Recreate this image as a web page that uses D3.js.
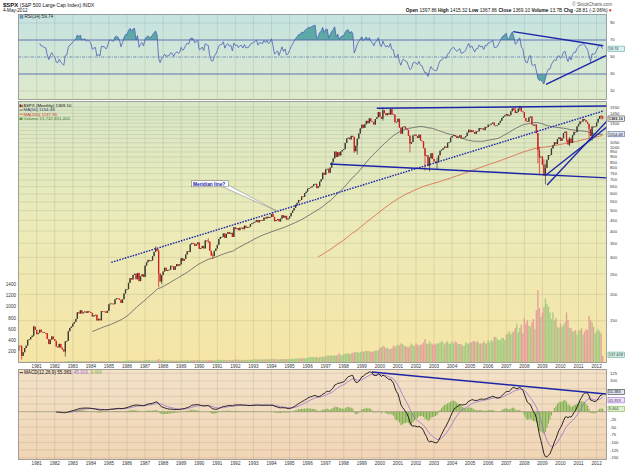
<!DOCTYPE html>
<html>
<head>
<meta charset="utf-8">
<script src="https://cdn.jsdelivr.net/npm/d3@7"></script>
<style>
  body { margin: 0; background: #fff; }
  svg text { font-family: "Liberation Sans", Arial, sans-serif; }
</style>
</head>
<body>
<svg id="chart" width="625" height="467"></svg>
<script>
// $SPX monthly closes, Jan 1980 .. May 2012
const startYear = 1980;
const firstOpen = 107.94;
const closes = [
  114.16, 113.66, 102.09, 106.29, 111.24, 114.24, 121.67, 122.38, 125.46, 127.47, 140.52, 135.76, // 1980
  129.55, 131.27, 136.00, 132.81, 132.59, 131.21, 130.92, 122.79, 116.18, 121.89, 126.35, 122.55, // 1981
  120.40, 113.11, 111.96, 116.44, 111.88, 109.61, 107.09, 119.51, 120.42, 133.71, 138.54, 140.64, // 1982
  145.30, 148.06, 152.96, 164.42, 162.39, 168.11, 162.56, 164.40, 166.07, 163.55, 166.40, 164.93, // 1983
  163.41, 157.06, 159.18, 160.05, 150.55, 153.18, 150.66, 166.68, 166.10, 166.09, 163.58, 167.24, // 1984
  179.63, 181.18, 180.66, 179.83, 189.55, 191.85, 190.92, 188.63, 182.08, 189.82, 202.17, 211.28, // 1985
  211.78, 226.92, 238.90, 235.52, 247.35, 250.84, 236.12, 252.93, 231.32, 243.98, 249.22, 242.17, // 1986
  274.08, 284.20, 291.70, 288.36, 290.10, 304.00, 318.66, 329.80, 321.83, 251.79, 230.30, 247.08, // 1987
  257.07, 267.82, 258.89, 261.33, 262.16, 273.50, 272.02, 261.52, 271.91, 278.97, 273.70, 277.72, // 1988
  297.47, 288.86, 294.87, 309.64, 320.52, 317.98, 346.08, 351.45, 349.15, 340.36, 345.99, 353.40, // 1989
  329.08, 331.89, 339.94, 330.80, 361.23, 358.02, 356.15, 322.56, 306.05, 304.00, 322.22, 330.22, // 1990
  343.93, 367.07, 375.22, 375.34, 389.83, 371.16, 387.81, 395.43, 387.86, 392.46, 375.22, 417.09, // 1991
  408.79, 412.70, 403.69, 414.95, 415.35, 408.14, 424.21, 414.03, 417.80, 418.68, 431.35, 435.71, // 1992
  438.78, 443.38, 451.67, 440.19, 450.19, 450.53, 448.13, 463.56, 458.93, 467.83, 461.79, 466.45, // 1993
  481.61, 467.14, 445.77, 450.91, 456.50, 444.27, 458.26, 475.49, 462.69, 472.35, 453.69, 459.27, // 1994
  470.42, 487.39, 500.71, 514.71, 533.40, 544.75, 562.06, 561.88, 584.41, 581.50, 605.37, 615.93, // 1995
  636.02, 640.43, 645.50, 654.17, 669.12, 670.63, 639.95, 651.99, 687.31, 705.27, 757.02, 740.74, // 1996
  786.16, 790.82, 757.12, 801.34, 848.28, 885.14, 954.29, 899.47, 947.28, 914.62, 955.40, 970.43, // 1997
  980.28, 1049.34, 1101.75, 1111.75, 1090.82, 1133.84, 1120.67, 957.28, 1017.01, 1098.67, 1163.63, 1229.23, // 1998
  1279.64, 1238.33, 1286.37, 1335.18, 1301.84, 1372.71, 1328.72, 1320.41, 1282.71, 1362.93, 1388.91, 1469.25, // 1999
  1394.46, 1366.42, 1498.58, 1452.43, 1420.60, 1454.60, 1430.83, 1517.68, 1436.51, 1429.40, 1314.95, 1320.28, // 2000
  1366.01, 1239.94, 1160.33, 1249.46, 1255.82, 1224.42, 1211.23, 1133.58, 1040.94, 1059.78, 1139.45, 1148.08, // 2001
  1130.20, 1106.73, 1147.39, 1076.92, 1067.14, 989.82, 911.62, 916.07, 815.28, 885.76, 936.31, 879.82, // 2002
  855.70, 841.15, 848.18, 916.92, 963.59, 974.50, 990.31, 1008.01, 995.97, 1050.71, 1058.20, 1111.92, // 2003
  1131.13, 1144.94, 1126.21, 1107.30, 1120.68, 1140.84, 1101.72, 1104.24, 1114.58, 1130.20, 1173.82, 1211.92, // 2004
  1181.27, 1203.60, 1180.59, 1156.85, 1191.50, 1191.33, 1234.18, 1220.33, 1228.81, 1207.01, 1249.48, 1248.29, // 2005
  1280.08, 1280.66, 1294.83, 1310.61, 1270.09, 1270.20, 1276.66, 1303.82, 1335.85, 1377.94, 1400.63, 1418.30, // 2006
  1438.24, 1406.82, 1420.86, 1482.37, 1530.62, 1503.35, 1455.27, 1473.99, 1526.75, 1549.38, 1481.14, 1468.36, // 2007
  1378.55, 1330.63, 1322.70, 1385.59, 1400.38, 1280.00, 1267.38, 1282.83, 1166.36, 968.75, 896.24, 903.25, // 2008
  825.88, 735.09, 797.87, 872.81, 919.14, 919.32, 987.48, 1020.62, 1057.08, 1036.19, 1095.63, 1115.10, // 2009
  1073.87, 1104.49, 1169.43, 1186.69, 1089.41, 1030.71, 1101.60, 1049.33, 1141.20, 1183.26, 1180.55, 1257.64, // 2010
  1286.12, 1327.22, 1325.83, 1363.61, 1345.20, 1320.64, 1292.28, 1218.89, 1131.42, 1253.30, 1246.96, 1257.60, // 2011
  1312.41, 1365.68, 1408.47, 1397.91, 1369.10 // 2012
];

// monthly volume, in hundreds of millions of shares (left axis units)
const volumes = [
  8, 9, 10, 8, 8, 8, 10, 10, 11, 11, 11, 10,
  11, 10, 11, 11, 10, 10, 9, 10, 10, 10, 10, 10,
  11, 10, 12, 12, 11, 10, 11, 18, 17, 23, 20, 19,
  23, 22, 21, 24, 25, 22, 20, 19, 20, 21, 20, 19,
  23, 21, 20, 19, 20, 18, 18, 28, 20, 20, 19, 20,
  25, 23, 21, 21, 24, 22, 23, 20, 20, 24, 25, 27,
  30, 32, 35, 32, 30, 30, 30, 29, 32, 30, 30, 30,
  42, 40, 42, 40, 34, 34, 34, 37, 35, 60, 38, 36,
  35, 33, 34, 30, 30, 36, 30, 28, 29, 30, 30, 30,
  34, 32, 34, 33, 36, 36, 35, 40, 36, 40, 35, 38,
  40, 34, 36, 33, 38, 36, 36, 40, 36, 40, 36, 38,
  44, 46, 44, 44, 42, 40, 40, 40, 40, 42, 40, 44,
  50, 48, 46, 46, 42, 44, 42, 40, 44, 46, 46, 44,
  52, 54, 54, 52, 52, 54, 50, 50, 56, 58, 54, 54,
  60, 58, 62, 54, 54, 52, 52, 58, 58, 58, 58, 54,
  62, 62, 66, 58, 66, 70, 70, 72, 72, 74, 74, 72,
  86, 88, 92, 96, 96, 88, 98, 84, 92, 100, 100, 100,
  120, 120, 118, 126, 118, 124, 124, 124, 130, 160, 130, 128,
  150, 150, 160, 160, 150, 160, 170, 180, 180, 190, 170, 180,
  200, 190, 200, 210, 200, 200, 190, 190, 200, 210, 210, 220,
  260, 270, 300, 280, 250, 260, 240, 240, 250, 300, 280, 300,
  320, 300, 340, 330, 300, 290, 280, 270, 300, 340, 310, 290,
  340, 320, 300, 320, 320, 360, 420, 340, 330, 380, 340, 320,
  340, 320, 340, 340, 360, 380, 360, 320, 360, 380, 330, 340,
  380, 340, 380, 360, 330, 330, 330, 300, 300, 360, 340, 340,
  360, 360, 380, 380, 360, 380, 340, 340, 340, 380, 340, 340,
  400, 360, 400, 380, 460, 460, 420, 400, 400, 440, 440, 400,
  500, 520, 560, 500, 540, 560, 620, 700, 540, 620, 680, 520,
  800, 700, 760, 660, 640, 720, 780, 600, 940, 1300, 980, 820,
  900, 1000, 1150, 1050, 1000, 900, 780, 900, 760, 800, 640, 620,
  700, 640, 680, 720, 900, 760, 620, 620, 560, 560, 580, 500,
  580, 580, 620, 500, 560, 600, 580, 840, 760, 720, 640, 520,
  560, 600, 560, 520, 115
];

// notable monthly lows / highs (month, low, high)
const extremes = [
  ["1980-03", 98.22, 114.4], ["1980-11", 126.3, 141.96], ["1982-08", 101.4, 120.0],
  ["1987-08", 318.0, 337.89], ["1987-10", 216.46, 328.3], ["1987-12", 223.9, 247.1],
  ["1990-07", 351.0, 369.78], ["1990-10", 294.51, 314.6], ["1998-08", 939.98, 1121.0],
  ["1998-10", 923.32, 1100.0], ["2000-03", 1339.4, 1552.87], ["2000-09", 1421.0, 1530.09],
  ["2001-09", 944.75, 1142.0], ["2002-07", 775.68, 994.0], ["2002-10", 768.63, 900.0],
  ["2003-03", 788.9, 895.0], ["2007-07", 1455.0, 1555.9], ["2007-10", 1489.0, 1576.09],
  ["2008-10", 839.8, 1170.0], ["2008-11", 741.02, 1007.0], ["2009-02", 731.1, 877.0],
  ["2009-03", 666.79, 832.98], ["2010-05", 1055.9, 1186.0], ["2010-07", 1010.91, 1120.0],
  ["2011-08", 1101.54, 1292.0], ["2011-10", 1074.77, 1260.0], ["2012-04", 1357.38, 1422.38],
  ["2012-05", 1367.86, 1415.32]
];

// tick labels
const years = d3.range(1981, 2013);
const priceTicks = d3.range(1550, 149, -50);
const volumeTicks = [200, 400, 600, 800, 1000, 1200, 1400];
const rsiTicks = [10, 30, 50, 70, 90];
const macdTicks = [125, 100, 75, 50, 25, 0, -25, -50, -75, -100, -125, -150];

// hand drawn trend lines: [yearFraction, value]
const priceLines = [
  [[1999.83, 1532], [2012.63, 1572]],
  [[1997.24, 833], [2012.63, 715]],
  [[2009.2, 738], [2012.63, 1262]],
  [[2009.26, 662], [2012.63, 1348]]
];
const meridianLine = [[1985.13, 284], [2012.4, 1490]];
const rsiLines = [
  [[2007.38, 79.8], [2012.37, 63.3]],
  [[2009.2, 17.9], [2012.52, 51.5]]
];
const macdLines = [[[1999.55, 129.3], [2012.52, 57.7]]];

// readings shown in the legends
const rsiLast = 59.74;
const macdLast = [55.383, 45.919, 9.464];
const volumeLast = 137.43;
const header = [["Open", "1397.86"], ["High", "1415.32"], ["Low", "1367.86"], ["Close", "1369.10"],
  ["Volume", "13.7B"], ["Chg", "-28.81 (-2.06%)"]];

// ---------- indicators ----------
function sma(vals, n) {
  return vals.map((v, i) => i < n - 1 ? null : d3.mean(vals.slice(i - n + 1, i + 1)));
}
function ema(vals, n) {
  const out = vals.map(() => null);
  const k = 2 / (n + 1);
  const start = vals.findIndex(v => v != null);
  if (start < 0 || start + n > vals.length) return out;
  let s = d3.mean(vals.slice(start, start + n));
  out[start + n - 1] = s;
  for (let i = start + n; i < vals.length; i++) { s = vals[i] * k + s * (1 - k); out[i] = s; }
  return out;
}
function rsi(vals, n) {
  const out = vals.map(() => null);
  let g = 0, l = 0;
  for (let i = 1; i <= n; i++) { const d = vals[i] - vals[i - 1]; if (d > 0) g += d; else l -= d; }
  g /= n; l /= n;
  out[n] = 100 - 100 / (1 + g / l);
  for (let i = n + 1; i < vals.length; i++) {
    const d = vals[i] - vals[i - 1];
    g = (g * (n - 1) + Math.max(d, 0)) / n;
    l = (l * (n - 1) + Math.max(-d, 0)) / n;
    out[i] = l === 0 ? 100 : 100 - 100 / (1 + g / l);
  }
  return out;
}

const t = i => startYear + i / 12;
const opens = closes.map((c, i) => i === 0 ? firstOpen : closes[i - 1]);
const ma50 = sma(closes, 50);
const ma200 = sma(closes, 200);
const rsiVals = rsi(closes, 14);
const e12 = ema(closes, 12), e26 = ema(closes, 26);
const macd = closes.map((c, i) => e26[i] == null ? null : e12[i] - e26[i]);
const signal = ema(macd, 9);
const hist = macd.map((m, i) => signal[i] == null ? null : m - signal[i]);
const extremeMap = new Map(extremes.map(d => [d[0], d]));
const bars = closes.map((c, i) => {
  const key = `${startYear + Math.floor(i / 12)}-${String(i % 12 + 1).padStart(2, "0")}`;
  const e = extremeMap.get(key);
  const o = opens[i];
  return {
    i, t: t(i), o, c, v: volumes[i],
    lo: e ? e[1] : Math.min(o, c),
    hi: e ? e[2] : Math.max(o, c),
    up: c >= o
  };
});

// ---------- layout ----------
const L = 18, R = 607;
const rsiP = { top: 14, bottom: 100 };
const mainP = { top: 101, bottom: 363 };
const macdP = { top: 369, bottom: 460 };

const x = d3.scaleLinear().domain([1981, 2012]).range([36.7, 596.6]);
const yP = d3.scaleLog().domain([100, 1000]).range([357.8, 147.3]);
const yV = d3.scaleLinear().domain([0, 1400]).range([362.3, 284.7]);
const yR = d3.scaleLinear().domain([0, 100]).range([99.5, 14.5]);
const yM = d3.scaleLinear().domain([0, 125]).range([411.7, 373.3]);

const svg = d3.select("#chart");
const defs = svg.append("defs");

function gradient(id, stops) {
  const g = defs.append("linearGradient").attr("id", id)
    .attr("x1", 0).attr("y1", 0).attr("x2", 0).attr("y2", 1);
  stops.forEach(s => g.append("stop").attr("offset", s[0]).attr("stop-color", s[1]));
}
gradient("rsiBg", [[0, "#c5e3e2"], [1, "#dfeaca"]]);
gradient("mainBg", [[0, "#d8e7c6"], [0.45, "#ebebb9"], [1, "#f6e5a6"]]);
gradient("macdBg", [[0, "#f3e1c7"], [1, "#f1d5b5"]]);

function panel(id, p, fill) {
  defs.append("clipPath").attr("id", id + "Clip")
    .append("rect").attr("x", L).attr("y", p.top).attr("width", R - L).attr("height", p.bottom - p.top);
  svg.append("rect")
    .attr("x", L).attr("y", p.top).attr("width", R - L).attr("height", p.bottom - p.top)
    .style("fill", fill);
  return svg.append("g").attr("clip-path", `url(#${id}Clip)`);
}
function border(p) {
  svg.append("rect")
    .attr("x", L + 0.5).attr("y", p.top + 0.5).attr("width", R - L - 1).attr("height", p.bottom - p.top - 1)
    .style("fill", "none").style("stroke", "#8f8f8f").style("stroke-width", 0.8);
}
function vGrid(g, p) {
  g.selectAll(".vgrid").data(years).enter().append("line")
    .attr("x1", d => x(d)).attr("x2", d => x(d))
    .attr("y1", p.top).attr("y2", p.bottom)
    .style("stroke", "rgba(60,60,60,0.16)").style("stroke-width", 0.7);
}
function hGrid(g, vals, scale) {
  g.selectAll(".hgrid").data(vals).enter().append("line")
    .attr("x1", L).attr("x2", R)
    .attr("y1", d => scale(d)).attr("y2", d => scale(d))
    .style("stroke", "rgba(60,60,60,0.16)").style("stroke-width", 0.7);
}
function trend(g, pts, xs, ys, dashed) {
  g.append("line")
    .attr("x1", xs(pts[0][0])).attr("y1", ys(pts[0][1]))
    .attr("x2", xs(pts[1][0])).attr("y2", ys(pts[1][1]))
    .style("stroke", "#1b25a8").style("stroke-width", 1.4)
    .style("stroke-dasharray", dashed ? "1.6,1.2" : null);
}
// axis labels on the right, skipping the ones a value tag sits on or that crowd the previous one
function rightLabels(vals, scale, tagYs) {
  const keep = [];
  let lastY = -Infinity;
  vals.forEach(v => {
    const y = scale(v);
    if ((tagYs || []).some(ty => Math.abs(y - ty) < 4.5)) return;
    if (Math.abs(y - lastY) < 4.3) return;
    keep.push(v);
    lastY = y;
  });
  svg.append("g").selectAll("text").data(keep).enter().append("text")
    .attr("x", R + 3).attr("y", d => scale(d)).attr("dy", "0.35em")
    .style("font-size", "4.2px").style("fill", "#333")
    .text(d => d);
}
function tag(yPos, txt, fill, stroke, color, bold) {
  const g = svg.append("g");
  g.append("rect").attr("x", R + 1).attr("y", yPos - 2.6).attr("width", 16.5).attr("height", 5.2)
    .style("fill", fill).style("stroke", stroke).style("stroke-width", 0.6);
  g.append("text").attr("x", R + 1.8).attr("y", yPos).attr("dy", "0.35em")
    .style("font-size", "3.9px").style("fill", color).style("font-weight", bold ? "bold" : "normal")
    .text(txt);
}
function yearLabels(yPos) {
  svg.append("g").selectAll("text").data(years).enter().append("text")
    .attr("x", d => x(d)).attr("y", yPos).attr("text-anchor", "middle")
    .style("font-size", "4.6px").style("fill", "#333")
    .text(d => d);
}

// ---------- header ----------
const head = svg.append("text").attr("x", 3).attr("y", 6.5).style("font-size", "5px").style("fill", "#111");
head.append("tspan").style("font-weight", "bold").style("font-size", "6px").text("$SPX");
head.append("tspan").text(" (S&P 500 Large Cap Index) INDX");
svg.append("text").attr("x", 3).attr("y", 12).style("font-size", "4.6px").style("fill", "#222").text("4-May-2012");
svg.append("text").attr("x", 612).attr("y", 5.5).attr("text-anchor", "end")
  .style("font-size", "4.6px").style("fill", "#555").text("© StockCharts.com");
const quote = svg.append("text").attr("x", 612).attr("y", 12).attr("text-anchor", "end")
  .style("font-size", "4.8px").style("fill", "#111");
header.forEach(h => {
  quote.append("tspan").style("font-weight", "bold").text(h[0] + " ");
  quote.append("tspan").text(h[1] + " ");
});
quote.append("tspan").style("fill", "#c00").text("▾");

// ---------- RSI panel ----------
const rsiG = panel("rsi", rsiP, "url(#rsiBg)");
vGrid(rsiG, rsiP);
hGrid(rsiG, [10, 90], yR);
const rsiPts = bars.filter(b => rsiVals[b.i] != null).map(b => ({ t: b.t, v: rsiVals[b.i] }));
defs.append("clipPath").attr("id", "over70").append("rect")
  .attr("x", L).attr("y", rsiP.top).attr("width", R - L).attr("height", yR(70) - rsiP.top);
defs.append("clipPath").attr("id", "under30").append("rect")
  .attr("x", L).attr("y", yR(30)).attr("width", R - L).attr("height", rsiP.bottom - yR(30));
rsiG.append("path").datum(rsiPts)
  .attr("clip-path", "url(#over70)")
  .attr("d", d3.area().x(d => x(d.t)).y0(yR(70)).y1(d => yR(d.v)))
  .style("fill", "#5ca9a6");
rsiG.append("path").datum(rsiPts)
  .attr("clip-path", "url(#under30)")
  .attr("d", d3.area().x(d => x(d.t)).y0(yR(30)).y1(d => yR(d.v)))
  .style("fill", "#5ca9a6");
[70, 30].forEach(v => rsiG.append("line").attr("x1", L).attr("x2", R).attr("y1", yR(v)).attr("y2", yR(v))
  .style("stroke", "#5565ad").style("stroke-width", 0.9));
rsiG.append("line").attr("x1", L).attr("x2", R).attr("y1", yR(50)).attr("y2", yR(50))
  .style("stroke", "#5565ad").style("stroke-width", 0.7).style("stroke-dasharray", "3,1.2,1,1.2");
rsiG.append("path").datum(rsiPts)
  .attr("d", d3.line().x(d => x(d.t)).y(d => yR(d.v)))
  .style("fill", "none").style("stroke", "#4a5fb5").style("stroke-width", 0.8);
rsiLines.forEach(l => trend(rsiG, l, x, yR));
border(rsiP);
rightLabels(rsiTicks, yR, [yR(rsiLast)]);
tag(yR(rsiLast), rsiLast.toFixed(2), "#d8f0ee", "#5ca9a6", "#234", false);
svg.append("rect").attr("x", 20).attr("y", 15.6).attr("width", 3).attr("height", 2.6).style("fill", "#5ca9a6").style("stroke", "#4a5fb5").style("stroke-width", 0.4);
svg.append("text").attr("x", 24.5).attr("y", 18).style("font-size", "4.6px").style("fill", "#222")
  .text(`RSI(14) ${rsiLast.toFixed(2)}`);

// ---------- price panel ----------
const mainG = panel("main", mainP, "url(#mainBg)");
vGrid(mainG, mainP);
hGrid(mainG, priceTicks, yP);

mainG.selectAll(".vol").data(bars).enter().append("rect")
  .attr("x", d => x(d.t) - 0.7).attr("width", 1.4)
  .attr("y", d => yV(d.v)).attr("height", d => yV(0) - yV(d.v))
  .style("fill", d => d.up ? "#9fca80" : "#e39a9a").style("opacity", 0.9);

const ma50Pts = bars.filter(b => ma50[b.i] != null).map(b => ({ t: b.t, v: ma50[b.i] }));
const ma200Pts = bars.filter(b => ma200[b.i] != null).map(b => ({ t: b.t, v: ma200[b.i] }));
mainG.append("path").datum(ma50Pts)
  .attr("d", d3.line().x(d => x(d.t)).y(d => yP(d.v)))
  .style("fill", "none").style("stroke", "#5a5a60").style("stroke-width", 0.8);
mainG.append("path").datum(ma200Pts)
  .attr("d", d3.line().x(d => x(d.t)).y(d => yP(d.v)))
  .style("fill", "none").style("stroke", "#d8603f").style("stroke-width", 0.8);

mainG.selectAll(".wick").data(bars).enter().append("line")
  .attr("x1", d => x(d.t)).attr("x2", d => x(d.t))
  .attr("y1", d => yP(d.hi)).attr("y2", d => yP(d.lo))
  .style("stroke", d => d.up ? "#3a3a30" : "#cf1b1b").style("stroke-width", 0.7);
mainG.selectAll(".candle").data(bars).enter().append("rect")
  .attr("x", d => x(d.t) - 0.65).attr("width", 1.3)
  .attr("y", d => yP(Math.max(d.o, d.c)))
  .attr("height", d => Math.max(0.8, yP(Math.min(d.o, d.c)) - yP(Math.max(d.o, d.c))))
  .style("fill", d => d.up ? "#3a3a30" : "#cf1b1b");

priceLines.forEach(l => trend(mainG, l, x, yP));
trend(mainG, meridianLine, x, yP, true);

// annotation
mainG.append("polygon")
  .attr("points", "222,186.5 228,185 278.5,211.8")
  .style("fill", "#fff").style("stroke", "#777").style("stroke-width", 0.5);
mainG.append("rect").attr("x", 191.5).attr("y", 180.8).attr("width", 37).attr("height", 6)
  .style("fill", "#fff").style("stroke", "#666").style("stroke-width", 0.5);
mainG.append("text").attr("x", 193).attr("y", 185.5)
  .style("font-size", "4.8px").style("font-weight", "bold").style("fill", "#1b25a8")
  .text("Meridian line?");

border(mainP);
const last = bars[bars.length - 1];
const ma50Last = ma50[ma50.length - 1], ma200Last = ma200[ma200.length - 1];
rightLabels(priceTicks, yP, [yP(ma50Last), yP(last.c), yV(volumeLast)]);
svg.append("g").selectAll("text").data(volumeTicks).enter().append("text")
  .attr("x", 16).attr("y", d => yV(d)).attr("dy", "0.35em").attr("text-anchor", "end")
  .style("font-size", "4.6px").style("fill", "#333").text(d => d);

tag(yP(ma50Last), ma50Last.toFixed(2), "#dde6f2", "#5a6a90", "#223", false);
tag(yP(last.c), last.c.toFixed(2), "#ffffff", "#333", "#111", true);
tag(yV(volumeLast), "137.428", "#d7efe6", "#5ca98a", "#234", false);

// legend
const lg = svg.append("g").style("font-size", "4.4px");
lg.append("rect").attr("x", 19.5).attr("y", 104.3).attr("width", 1.4).attr("height", 2.8).style("fill", "#333");
lg.append("rect").attr("x", 21.3).attr("y", 104.8).attr("width", 1.4).attr("height", 2.3).style("fill", "#cf1b1b");
lg.append("text").attr("x", 23.5).attr("y", 107.2).style("fill", "#111").text(`$SPX (Monthly) ${last.c.toFixed(2)}`);
[[`MA(50) ${ma50Last.toFixed(2)}`, "#2d3a6a", "#5a5a60", 111.4],
 [`MA(200) ${ma200Last.toFixed(2)}`, "#c8402a", "#d8603f", 115.6]].forEach(d => {
  lg.append("line").attr("x1", 19.5).attr("x2", 23).attr("y1", d[3] - 1.3).attr("y2", d[3] - 1.3)
    .style("stroke", d[2]).style("stroke-width", 0.8);
  lg.append("text").attr("x", 23.5).attr("y", d[3]).style("fill", d[1]).text(d[0]);
});
lg.append("rect").attr("x", 19.5).attr("y", 117.6).attr("width", 3).attr("height", 2.4).style("fill", "#5f9a3d");
lg.append("text").attr("x", 23.5).attr("y", 119.8).style("fill", "#3f7a2a").text("Volume 13,742,851,400");

yearLabels(367.8);

// ---------- MACD panel ----------
const macdG = panel("macd", macdP, "url(#macdBg)");
vGrid(macdG, macdP);
hGrid(macdG, macdTicks, yM);
macdG.selectAll(".hist").data(bars.filter(b => hist[b.i] != null)).enter().append("rect")
  .attr("x", d => x(d.t) - 0.55).attr("width", 1.1)
  .attr("y", d => yM(Math.max(0, hist[d.i])))
  .attr("height", d => Math.abs(yM(hist[d.i]) - yM(0)))
  .style("fill", "#7fb24e");
macdG.append("line").attr("x1", L).attr("x2", R).attr("y1", yM(0)).attr("y2", yM(0))
  .style("stroke", "#8a8a70").style("stroke-width", 0.5);
const sigPts = bars.filter(b => signal[b.i] != null).map(b => ({ t: b.t, v: signal[b.i] }));
const macdPts = bars.filter(b => macd[b.i] != null).map(b => ({ t: b.t, v: macd[b.i] }));
macdG.append("path").datum(sigPts)
  .attr("d", d3.line().x(d => x(d.t)).y(d => yM(d.v)))
  .style("fill", "none").style("stroke", "#9a70cc").style("stroke-width", 0.8);
macdG.append("path").datum(macdPts)
  .attr("d", d3.line().x(d => x(d.t)).y(d => yM(d.v)))
  .style("fill", "none").style("stroke", "#111").style("stroke-width", 0.9);
macdLines.forEach(l => trend(macdG, l, x, yM));
border(macdP);
const macdTagYs = [yM(macdLast[0]) - 2.7, yM(macdLast[1]) + 2.7, yM(macdLast[2])];
rightLabels(macdTicks, yM, macdTagYs);
tag(macdTagYs[0], macdLast[0].toFixed(3), "#dde6f2", "#333", "#111", false);
tag(macdTagYs[1], macdLast[1].toFixed(3), "#ece2f6", "#9a70cc", "#553377", false);
tag(macdTagYs[2], macdLast[2].toFixed(3), "#dcefd0", "#7fb24e", "#335522", false);

const ml = svg.append("text").attr("x", 24).attr("y", 374.2).style("font-size", "4.6px");
svg.append("line").attr("x1", 19.5).attr("x2", 23).attr("y1", 372.6).attr("y2", 372.6)
  .style("stroke", "#111").style("stroke-width", 0.8);
ml.append("tspan").style("fill", "#111").text(`MACD(12,26,9) ${macdLast[0].toFixed(3)}, `);
ml.append("tspan").style("fill", "#9a70cc").text(`${macdLast[1].toFixed(3)}, `);
ml.append("tspan").style("fill", "#7fb24e").text(macdLast[2].toFixed(3));

yearLabels(465);
</script>
</body>
</html>
